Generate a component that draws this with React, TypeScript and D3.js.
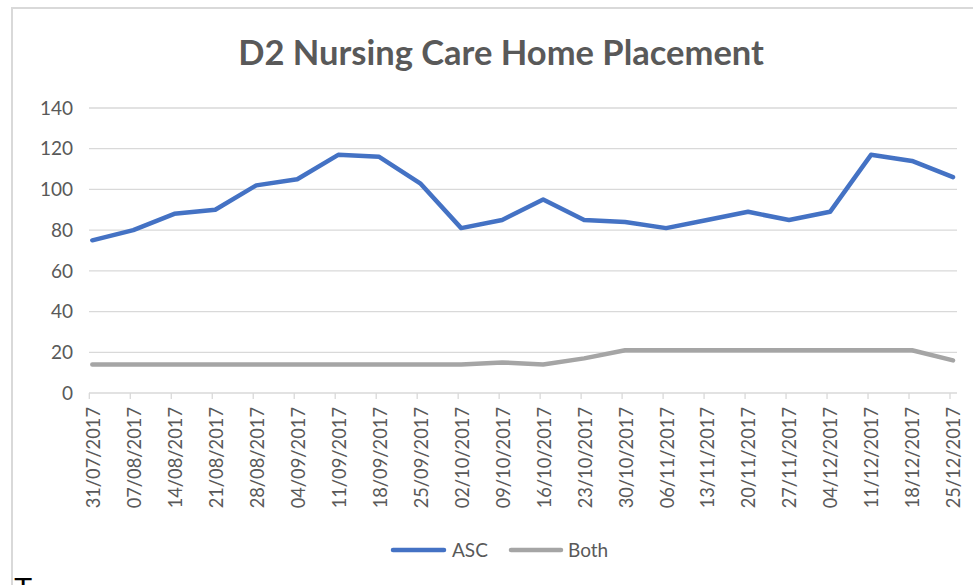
import React from "react";
import * as d3 from "d3";

const categories = [
  "31/07/2017", "07/08/2017", "14/08/2017", "21/08/2017", "28/08/2017", "04/09/2017",
  "11/09/2017", "18/09/2017", "25/09/2017", "02/10/2017", "09/10/2017", "16/10/2017",
  "23/10/2017", "30/10/2017", "06/11/2017", "13/11/2017", "20/11/2017", "27/11/2017",
  "04/12/2017", "11/12/2017", "18/12/2017", "25/12/2017",
];
const ascValues = [75, 80, 88, 90, 102, 105, 117, 116, 103, 81, 85, 95, 85, 84, 81, 85, 89, 85, 89, 117, 114, 106];
const bothValues = [14, 14, 14, 14, 14, 14, 14, 14, 14, 14, 15, 14, 17, 21, 21, 21, 21, 21, 21, 21, 21, 16];
const yTicks = [0, 20, 40, 60, 80, 100, 120, 140];
const seriesNames = ["ASC", "Both"];
const seriesColors = ["#4472C4", "#A5A5A5"];
const title = "D2 Nursing Care Home Placement";

const W = 973;
const H = 585;
const FONT = "Lato, 'Open Sans', sans-serif";
const TXT = "#595959";

export default function App() {
  const x = d3.scalePoint<string>().domain(categories).range([92.3, 953]);
  const y = d3.scaleLinear().domain([0, 140]).range([393, 108]);
  const plotLeft = 89;
  const plotRight = 957;
  const tickOff = -3;

  const line = d3
    .line<number>()
    .x((_, i) => x(categories[i]) as number)
    .y((d) => y(d));

  const series = [ascValues, bothValues];

  return (
    <svg
      width={W}
      height={H}
      style={{ position: "absolute", left: 0, top: 0, background: "#fff" }}
    >
      <rect x={0} y={0} width={W} height={H} fill="#fff" />
      <rect x={12} y={8} width={1100} height={1100} fill="#fff" stroke="#D9D9D9" strokeWidth={2} />
      <text
        x={501}
        y={65}
        textAnchor="middle"
        fontFamily={FONT}
        fontWeight={700}
        fontSize={34.5}
        fill={TXT}
      >
        {title}
      </text>

      {yTicks.map((t) => (
        <g key={t}>
          {t !== 0 && (
            <line x1={plotLeft} x2={plotRight} y1={y(t)} y2={y(t)} stroke="#D9D9D9" strokeWidth={1.3} />
          )}
          <text
            x={73}
            y={y(t)}
            dy="0.35em"
            textAnchor="end"
            fontFamily={FONT}
            fontSize={19}
            fill={TXT}
          >
            {t}
          </text>
        </g>
      ))}

      <line x1={plotLeft} x2={plotRight} y1={y(0)} y2={y(0)} stroke="#D9D9D9" strokeWidth={1.3} />
      {categories.map((c) => {
        const cx = (x(c) as number) + tickOff;
        return (
          <g key={c}>
            <line x1={cx} x2={cx} y1={y(0)} y2={y(0) + 6} stroke="#D9D9D9" strokeWidth={1.3} />
            <text
              transform={`translate(${cx + 4},407) rotate(-90)`}
              textAnchor="end"
              dy="0.35em"
              fontFamily={FONT}
              fontSize={18.3}
              fill={TXT}
            >
              {c}
            </text>
          </g>
        );
      })}

      {series.map((s, i) => (
        <path
          key={seriesNames[i]}
          d={line(s) as string}
          fill="none"
          stroke={seriesColors[i]}
          strokeWidth={4.5}
          strokeLinejoin="round"
          strokeLinecap="round"
        />
      ))}

      {/* legend */}
      <line x1={393} x2={444} y1={550} y2={550} stroke={seriesColors[0]} strokeWidth={4.5} strokeLinecap="round" />
      <text x={452} y={550} dy="0.35em" fontFamily={FONT} fontSize={19} fill={TXT}>
        {seriesNames[0]}
      </text>
      <line x1={511} x2={561} y1={550} y2={550} stroke={seriesColors[1]} strokeWidth={4.5} strokeLinecap="round" />
      <text x={568} y={550} dy="0.35em" fontFamily={FONT} fontSize={19} fill={TXT}>
        {seriesNames[1]}
      </text>

      <text x={14} y={598} fontFamily="'Liberation Sans', sans-serif" fontSize={30} fill="#000">
        T
      </text>
    </svg>
  );
}
